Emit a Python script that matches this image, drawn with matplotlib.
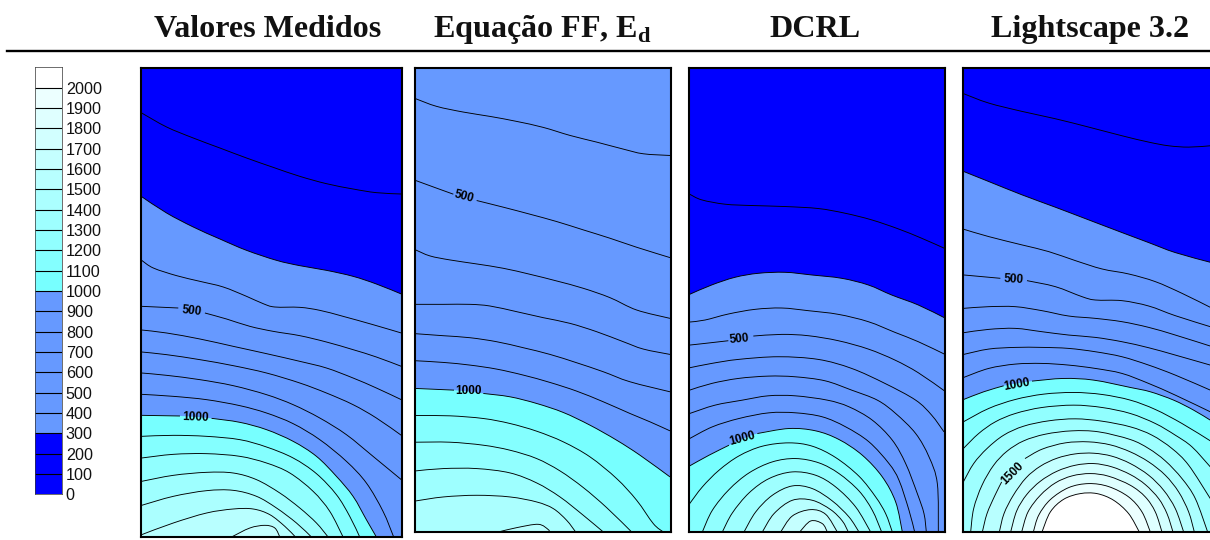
import matplotlib
matplotlib.use('Agg')
import matplotlib.pyplot as plt
from matplotlib.lines import Line2D
from matplotlib.patches import PathPatch
from matplotlib.path import Path

plt.rcParams['font.family'] = ['Liberation Sans', 'DejaVu Sans']
plt.rcParams['mathtext.fontset'] = 'custom'
plt.rcParams['mathtext.rm'] = 'Liberation Serif:bold'
plt.rcParams['mathtext.bf'] = 'Liberation Serif:bold'

W, H = 1210, 540

titles = ['Valores Medidos', 'Equação FF, E$_{\\mathbf{d}}$', 'DCRL', 'Lightscape 3.2']
title_centres = [267.5, 542, 815, 1090]

bar_levels = list(range(0, 2100, 100))
bar_colours = ['#0000ff'] * 3 + ['#6699ff'] * 7 + [
    '#77ffff', '#84ffff', '#91ffff', '#9effff', '#abffff', '#b8ffff',
    '#c5ffff', '#d2ffff', '#dfffff', '#ecffff', '#ffffff']

# isolines, level -> (x, y), None is the gap for a label
medidos = {
    200: [(425, 190), (500, 232), (580, 265), (660, 295), (740, 325), (820, 353), (900, 380), (980, 402), (1060, 418), (1130, 429), (1205, 433)],
    300: [(425, 441), (500, 490), (580, 532), (660, 568), (740, 602), (830, 632), (900, 648), (980, 662), (1060, 680), (1130, 703), (1205, 733)],
    400: [(425, 632), (460, 655), (530, 678), (600, 695), (670, 712), (740, 740), (790, 762), (825, 772), (900, 773), (960, 782), (1030, 800), (1120, 825), (1205, 850)],
    500: [(425, 770), (535, 775), None, (615, 790), (680, 808), (750, 830), (820, 845), (900, 858), (980, 877), (1060, 900), (1130, 922), (1205, 950)],
    600: [(425, 841), (500, 850), (600, 868), (700, 890), (800, 912), (900, 935), (980, 955), (1060, 985), (1130, 1015), (1205, 1050)],
    700: [(425, 907), (500, 915), (600, 930), (700, 948), (800, 970), (900, 1000), (980, 1030), (1060, 1065), (1130, 1105), (1205, 1157)],
    800: [(425, 970), (500, 977), (600, 990), (700, 1008), (800, 1035), (880, 1065), (960, 1105), (1040, 1155), (1120, 1220), (1205, 1290)],
    900: [(425, 1034), (520, 1040), (620, 1050), (720, 1068), (800, 1090), (880, 1122), (960, 1170), (1040, 1235), (1100, 1300), (1150, 1385), (1182, 1462)],
    1000: [(425, 1097), (540, 1099), None, (635, 1106), (720, 1118), (800, 1140), (880, 1175), (950, 1220), (1010, 1280), (1060, 1340), (1100, 1410), (1130, 1462)],
    1100: [(425, 1160), (520, 1157), (620, 1160), (720, 1170), (800, 1192), (880, 1225), (950, 1272), (1010, 1335), (1050, 1400), (1080, 1462)],
    1200: [(425, 1225), (520, 1214), (620, 1212), (720, 1220), (800, 1240), (870, 1270), (940, 1325), (990, 1385), (1030, 1462)],
    1300: [(425, 1295), (520, 1277), (620, 1268), (700, 1270), (770, 1290), (840, 1330), (900, 1375), (950, 1420), (985, 1462)],
    1400: [(425, 1367), (520, 1340), (620, 1323), (700, 1322), (770, 1340), (830, 1375), (890, 1420), (935, 1462)],
    1500: [(425, 1455), (520, 1420), (620, 1390), (700, 1378), (760, 1378), (810, 1395), (855, 1430), (887, 1462)],
    1600: [(695, 1462), (750, 1435), (795, 1427), (825, 1435), (840, 1462)],
}
medidos_labels = [(500, 575, 785, -6), (1000, 587, 1103, -2)]

equacao = {
    400: [(17, 147), (80, 170), (160, 187), (240, 200), (320, 215), (400, 233), (480, 257), (560, 277), (640, 298), (700, 312), (780, 317)],
    500: [(17, 392), (80, 415), (130, 433), None, (200, 452), (280, 472), (360, 493), (440, 515), (520, 540), (600, 565), (680, 592), (780, 623)],
    600: [(17, 600), (60, 618), (120, 630), (200, 642), (280, 655), (360, 673), (440, 693), (520, 715), (600, 743), (680, 780), (780, 805)],
    700: [(17, 763), (100, 763), (180, 763), (240, 768), (320, 785), (400, 803), (480, 820), (560, 845), (640, 875), (700, 897), (780, 913)],
    800: [(17, 851), (100, 857), (180, 863), (260, 875), (340, 893), (420, 913), (500, 938), (580, 965), (660, 995), (780, 1025)],
    900: [(17, 932), (100, 937), (180, 945), (260, 957), (340, 975), (420, 997), (500, 1023), (580, 1055), (660, 1090), (720, 1115), (780, 1142)],
    1000: [(17, 1015), (132, 1020), None, (220, 1030), (300, 1040), (380, 1060), (460, 1087), (540, 1125), (620, 1170), (690, 1215), (780, 1280)],
    1100: [(17, 1096), (120, 1097), (220, 1105), (300, 1120), (380, 1143), (460, 1175), (540, 1220), (620, 1285), (680, 1350), (730, 1420), (760, 1445)],
    1200: [(17, 1176), (120, 1176), (220, 1185), (300, 1200), (380, 1225), (450, 1262), (520, 1312), (590, 1372), (665, 1445)],
    1300: [(17, 1262), (100, 1255), (200, 1255), (300, 1268), (380, 1298), (450, 1340), (520, 1395), (580, 1445)],
    1400: [(17, 1352), (100, 1340), (200, 1335), (300, 1340), (380, 1355), (430, 1375), (470, 1410), (497, 1445)],
    1500: [(265, 1445), (320, 1432), (385, 1422), (415, 1438), (417, 1445)],
}
equacao_labels = [(500, 163, 441, -15), (1000, 175, 1024, 0)]

dcrl = {
    200: [(14, 433), (50, 450), (120, 463), (200, 467), (300, 470), (400, 476), (480, 490), (560, 510), (640, 537), (710, 565), (778, 595)],
    300: [(14, 733), (80, 705), (150, 682), (220, 670), (300, 667), (380, 675), (470, 685), (550, 705), (620, 735), (700, 765), (778, 803)],
    400: [(14, 816), (60, 810), (130, 792), (210, 778), (290, 774), (370, 782), (460, 793), (550, 815), (630, 847), (700, 875), (778, 912)],
    500: [(14, 885), (60, 880), (130, 872), None, (205, 858), (290, 853), (370, 857), (460, 872), (550, 897), (630, 930), (700, 968), (778, 1022)],
    600: [(14, 953), (80, 940), (160, 928), (280, 920), (400, 928), (500, 955), (600, 1000), (692, 1050), (740, 1095), (777, 1145)],
    700: [(14, 1020), (80, 1000), (160, 985), (250, 978), (330, 980), (420, 992), (500, 1020), (577, 1050), (632, 1090), (692, 1150), (732, 1220), (757, 1300), (760, 1445)],
    800: [(14, 1090), (90, 1065), (172, 1050), (250, 1037), (330, 1037), (427, 1050), (492, 1070), (562, 1110), (622, 1170), (662, 1240), (697, 1330), (717, 1390), (724, 1445)],
    900: [(14, 1165), (82, 1130), (162, 1105), (252, 1088), (332, 1088), (412, 1100), (482, 1130), (552, 1175), (612, 1240), (642, 1290), (672, 1380), (689, 1445)],
    1000: [(14, 1247), (72, 1215), (132, 1185), None, (217, 1150), (312, 1135), (392, 1142), (462, 1168), (532, 1215), (592, 1280), (632, 1355), (652, 1445)],
    1100: [(14, 1360), (52, 1310), (102, 1260), (162, 1217), (232, 1188), (312, 1178), (382, 1188), (452, 1222), (522, 1278), (572, 1340), (602, 1390), (622, 1445)],
    1200: [(52, 1445), (82, 1380), (132, 1318), (192, 1268), (262, 1235), (332, 1225), (402, 1238), (462, 1270), (522, 1322), (562, 1380), (590, 1445)],
    1300: [(112, 1445), (142, 1388), (192, 1328), (252, 1285), (322, 1265), (392, 1275), (452, 1310), (512, 1370), (557, 1445)],
    1400: [(177, 1445), (212, 1385), (262, 1335), (322, 1307), (382, 1315), (442, 1352), (492, 1400), (522, 1445)],
    1500: [(232, 1445), (267, 1390), (322, 1350), (382, 1350), (437, 1378), (472, 1412), (490, 1445)],
    1600: [(287, 1445), (322, 1397), (377, 1378), (422, 1392), (457, 1445)],
    1700: [(344, 1445), (377, 1412), (412, 1420), (427, 1445)],
}
dcrl_labels = [(500, 162, 866, 5), (1000, 172, 1166, 15)]

lightscape = {
    200: [(25, 132), (100, 160), (200, 185), (300, 207), (400, 232), (500, 258), (580, 277), (640, 288), (700, 292), (765, 288)],
    300: [(25, 365), (100, 395), (200, 435), (300, 472), (400, 510), (500, 548), (580, 578), (660, 608), (765, 637)],
    400: [(25, 538), (100, 560), (200, 585), (280, 605), (360, 632), (440, 657), (520, 672), (600, 695), (680, 730), (765, 772)],
    500: [(25, 675), (135, 685), None, (215, 692), (300, 710), (380, 740), (420, 750), (500, 752), (580, 768), (660, 797), (765, 830)],
    600: [(25, 775), (100, 770), (180, 770), (260, 782), (340, 798), (420, 805), (500, 815), (580, 832), (660, 855), (765, 888)],
    700: [(25, 848), (100, 838), (180, 835), (260, 845), (340, 855), (420, 862), (500, 875), (580, 893), (660, 915), (765, 945)],
    800: [(25, 913), (100, 897), (180, 892), (260, 892), (340, 895), (420, 905), (500, 920), (580, 945), (660, 975), (765, 1020)],
    900: [(25, 982), (100, 955), (180, 942), (260, 940), (340, 945), (420, 955), (500, 970), (580, 1000), (660, 1035), (765, 1085)],
    1000: [(25, 1048), (85, 1025), (145, 1007), None, (230, 993), (325, 985), (415, 990), (525, 1012), (585, 1025), (655, 1050), (715, 1080), (765, 1110)],
    1100: [(24, 1115), (100, 1075), (180, 1048), (265, 1032), (355, 1027), (440, 1033), (525, 1050), (600, 1078), (680, 1120), (765, 1172)],
    1200: [(24, 1195), (70, 1150), (120, 1115), (180, 1090), (260, 1072), (355, 1065), (440, 1072), (525, 1090), (600, 1120), (660, 1155), (710, 1190), (765, 1250)],
    1300: [(24, 1295), (55, 1240), (95, 1195), (145, 1155), (205, 1128), (280, 1112), (360, 1106), (440, 1113), (525, 1130), (590, 1155), (650, 1195), (700, 1245), (765, 1345)],
    1400: [(46, 1445), (55, 1375), (80, 1305), (115, 1245), (155, 1203), (205, 1172), (270, 1152), (350, 1142), (430, 1145), (525, 1168), (580, 1195), (630, 1232), (680, 1285), (720, 1345), (757, 1445)],
    1500: [(81, 1445), (95, 1390), (119, 1335), (139, 1295), None, (209, 1225), (260, 1197), (330, 1178), (400, 1175), (465, 1184), (525, 1205), (580, 1235), (630, 1275), (670, 1325), (700, 1385), (717, 1445)],
    1600: [(132, 1445), (146, 1390), (174, 1335), (212, 1283), (255, 1248), (305, 1224), (360, 1211), (415, 1209), (470, 1218), (525, 1240), (580, 1275), (625, 1320), (660, 1375), (685, 1445)],
    1700: [(166, 1445), (184, 1382), (214, 1333), (255, 1293), (305, 1263), (360, 1245), (415, 1240), (470, 1250), (525, 1273), (570, 1303), (610, 1345), (635, 1390), (653, 1445)],
    1800: [(199, 1445), (218, 1385), (255, 1335), (300, 1298), (350, 1277), (405, 1270), (460, 1278), (525, 1305), (570, 1340), (600, 1385), (620, 1445)],
    1900: [(234, 1445), (250, 1395), (285, 1348), (340, 1312), (400, 1300), (460, 1309), (520, 1340), (560, 1385), (585, 1445)],
    2000: [(260, 1445), (285, 1385), (325, 1347), (375, 1330), (425, 1330), (475, 1350), (520, 1390), (552, 1445)],
}
lightscape_labels = [(500, 175, 689, -3), (1000, 185, 1003, 10), (1500, 172, 1270, 45)]

# panel box in image pixels, then the reading range of its isolines
panels = [
    (medidos, medidos_labels, (141, 68, 402, 537), (423, 1207, 1462, 55)),
    (equacao, equacao_labels, (415, 68, 671, 532), (15, 783, 1445, 55)),
    (dcrl, dcrl_labels, (689, 68, 945, 532), (12, 780, 1445, 55)),
    (lightscape, lightscape_labels, (963, 68, 1219, 532), (23, 791, 1445, 55)),
]


def add_axes_px(fig, left, top, right, bottom):
    return fig.add_axes([left / W, 1 - bottom / H, (right - left) / W, (bottom - top) / H])


def band_colour(level):
    return bar_colours[bar_levels.index(level)]


def split_runs(curve):
    runs, run = [], []
    for p in curve:
        if p is None:
            runs.append(run)
            run = []
        else:
            run.append(p)
    runs.append(run)
    return runs


def bezier_segments(pts):
    # bezier handles through the read points so the line is not angular
    verts = []
    for i in range(len(pts) - 1):
        p0 = pts[max(i - 1, 0)]
        p1 = pts[i]
        p2 = pts[i + 1]
        p3 = pts[min(i + 2, len(pts) - 1)]
        verts.append((p1[0] + (p2[0] - p0[0]) / 6, p1[1] + (p2[1] - p0[1]) / 6))
        verts.append((p2[0] - (p3[0] - p1[0]) / 6, p2[1] - (p3[1] - p1[1]) / 6))
        verts.append(p2)
    return verts


def line_path(pts):
    segs = bezier_segments(pts)
    return Path([pts[0]] + segs, [Path.MOVETO] + [Path.CURVE4] * len(segs))


def fill_path(pts, ybottom):
    segs = bezier_segments(pts)
    verts = [pts[0]] + segs + [(pts[-1][0], ybottom), (pts[0][0], ybottom), pts[0]]
    codes = [Path.MOVETO] + [Path.CURVE4] * len(segs) + [Path.LINETO, Path.LINETO, Path.CLOSEPOLY]
    return Path(verts, codes)


def plot_panel(ax, curves, labels, ranges):
    xmin, xmax, ybottom, ytop = ranges
    ax.set_facecolor(band_colour(min(curves) - 100))
    for level in sorted(curves):
        pts = [p for p in curves[level] if p is not None]
        ax.add_patch(PathPatch(fill_path(pts, ybottom + 5), fc=band_colour(level), ec='none',
                               zorder=1 + level / 10000))
    for level in curves:
        for run in split_runs(curves[level]):
            ax.add_patch(PathPatch(line_path(run), fc='none', ec='black', lw=0.65, zorder=3))
    for value, x, y, angle in labels:
        ax.text(x, y, str(value), fontsize=8.5, fontweight='bold', rotation=angle,
                ha='center', va='center', rotation_mode='anchor', zorder=4)
    ax.set_xlim(xmin, xmax)
    ax.set_ylim(ybottom, ytop)
    ax.set_xticks([])
    ax.set_yticks([])
    for spine in ax.spines.values():
        spine.set_linewidth(1.5)
        spine.set_zorder(5)


def plot_colourbar(ax):
    ax.barh(bar_levels, [1] * len(bar_levels), height=100, color=bar_colours, lw=0, align='edge')
    ax.hlines(bar_levels[1:], 0, 1, color='black', lw=0.8)
    ax.set_xlim(0, 1)
    ax.set_ylim(0, 2100)
    ax.set_xticks([])
    ax.set_yticks(bar_levels)
    ax.yaxis.tick_right()
    ax.tick_params(axis='y', length=0, pad=2.5, labelsize=11.6, labelcolor='#111111')
    for spine in ax.spines.values():
        spine.set_linewidth(0.5)
        spine.set_color('#333333')


if __name__ == '__main__':
    fig = plt.figure(figsize=(W / 100, H / 100), dpi=100)

    for title, centre in zip(titles, title_centres):
        fig.text(centre / W, 1 - 37 / H, title, family='Liberation Serif', fontweight='bold',
                 fontsize=23.1, ha='center', va='baseline', color='#111111')
    fig.add_artist(Line2D([7 / W, 1], [1 - 50.5 / H] * 2, color='black', lw=1.7))

    plot_colourbar(add_axes_px(fig, 35, 67.3, 62.3, 494.3))

    for curves, labels, box, ranges in panels:
        plot_panel(add_axes_px(fig, *box), curves, labels, ranges)

    fig.savefig('out.png', dpi=100)
